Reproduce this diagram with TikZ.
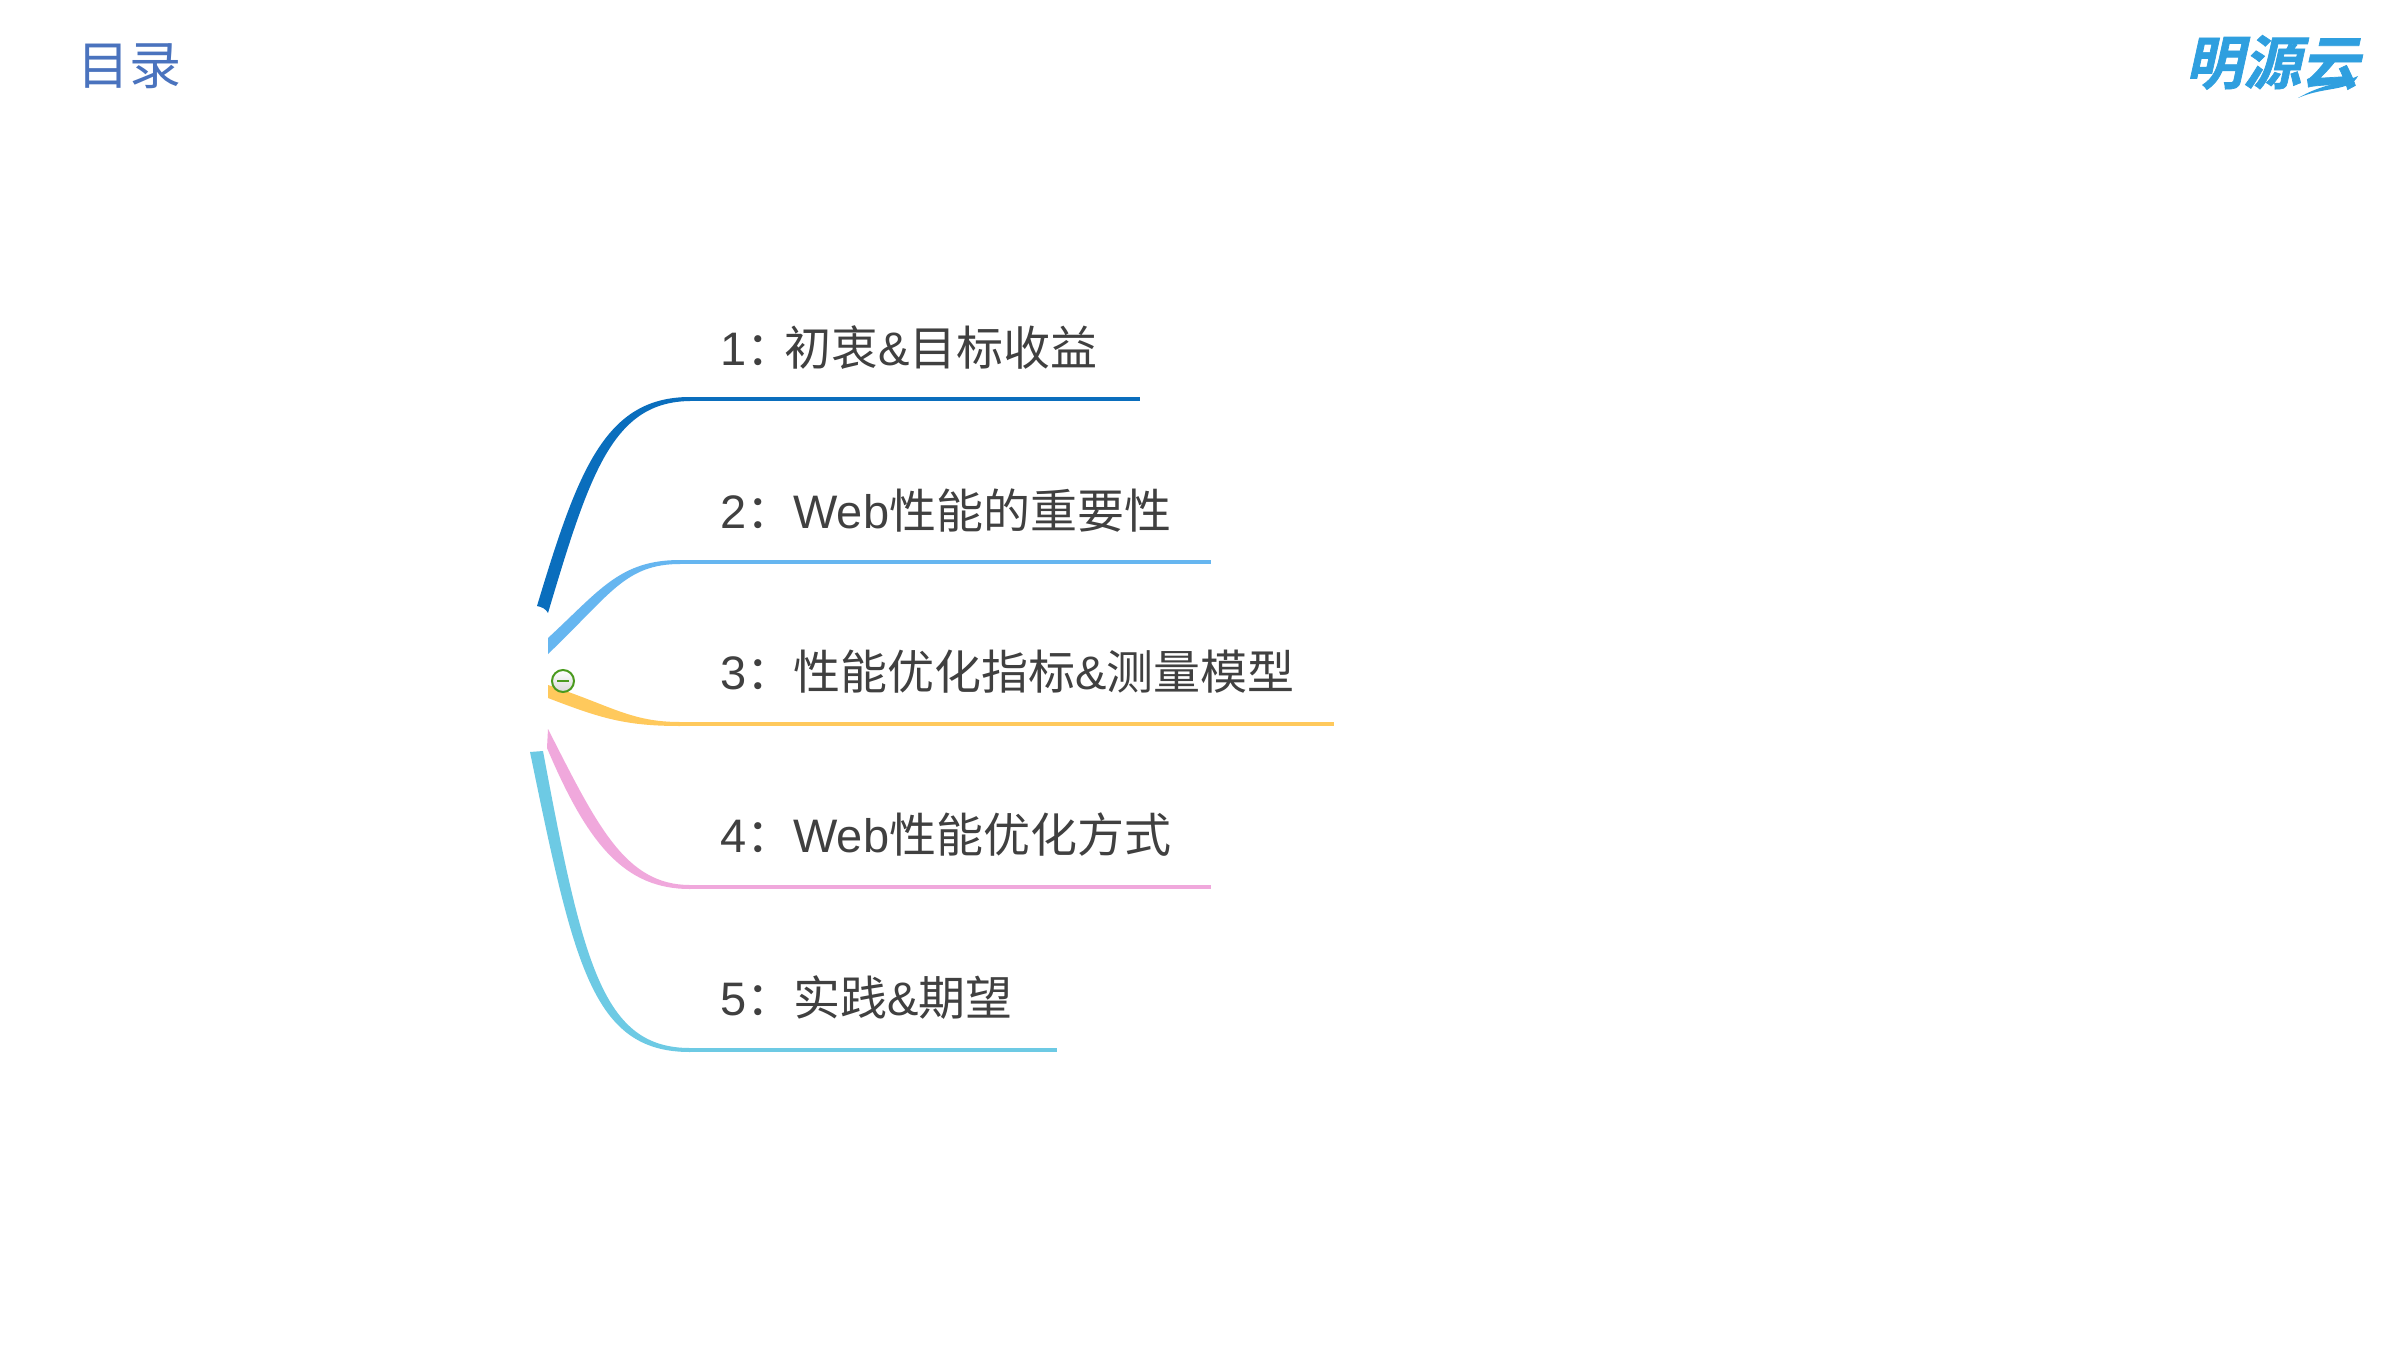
\documentclass[tikz,border=0pt]{standalone}
\usepackage{fontspec}
\setmainfont{Liberation Sans}
\newfontfamily\cjkfont{Noto Sans CJK SC}
\newfontfamily\logofont[FakeSlant=0.22,FakeBold=1.2]{Noto Sans CJK SC Bold}
\newcommand{\zh}[1]{{\cjkfont #1}}
\definecolor{bA}{HTML}{0A6EBD}
\definecolor{bB}{HTML}{66B6F0}
\definecolor{bC}{HTML}{FFC95C}
\definecolor{bD}{HTML}{F0A8DC}
\definecolor{bE}{HTML}{6DCAE4}
\definecolor{txt}{HTML}{404040}
\definecolor{ttl}{HTML}{4A73BE}
\definecolor{lg}{HTML}{2F9FDF}
\definecolor{btng}{HTML}{4A9A1E}
\tikzset{
  topic/.style={anchor=base west,inner sep=0pt,text=txt,font=\fontsize{47}{47}\selectfont},
  under/.style={line width=4pt},
  title/.style={anchor=base west,inner sep=0pt,text=ttl,font=\fontsize{52}{52}\selectfont\cjkfont},
  logotext/.style={anchor=base west,inner sep=0pt,text=lg,font=\fontsize{58}{58}\selectfont\logofont},
}
\begin{document}
\begin{tikzpicture}[x=1pt,y=-1pt]
\useasboundingbox (0,0) rectangle (2400,1351);
\fill[white] (0,0) rectangle (2400,1351);
% title and logo
\node[title] (title) at (77,85) {目录};
\node[logotext] (logo) at (2185,84) {明源云};
\fill[lg] (2298,98) .. controls (2322,84) and (2340,84) .. (2358,76) .. controls (2350,92) and (2325,86) .. cycle;
% branch ends
\coordinate (c1) at (688,399); \coordinate (e1) at (1140,399);
\coordinate (c2) at (680,562); \coordinate (e2) at (1211,562);
\coordinate (c3) at (680,724); \coordinate (e3) at (1334,724);
\coordinate (c4) at (688,887); \coordinate (e4) at (1211,887);
\coordinate (c5) at (688,1050); \coordinate (e5) at (1057,1050);
% tapered branches
\fill[bA] (537,606) .. controls (578,470) and (605,397) .. (690,397) -- (690,401)
  .. controls (613,402) and (590,472) .. (548,613) .. controls (546,609) and (542,607) .. cycle;
\fill[bB] (548,638) .. controls (600,590) and (620,560) .. (680,560) -- (680,564)
  .. controls (625,564) and (610,595) .. (548,654) -- cycle;
\fill[bC] (548,685) .. controls (610,705) and (630,722) .. (680,722) -- (680,726)
  .. controls (625,726) and (600,718) .. (548,698) -- cycle;
\fill[bD] (547,748) .. controls (588,845) and (625,889) .. (690,889) -- (690,885)
  .. controls (625,885) and (597,825) .. (548,729) -- cycle;
\fill[bE] (530,752) .. controls (574,965) and (592,1052) .. (690,1052) -- (690,1048)
  .. controls (603,1048) and (583,965) .. (543,751) -- cycle;
\draw[under,bA] (c1) -- (e1);
\draw[under,bB] (c2) -- (e2);
\draw[under,bC] (c3) -- (e3);
\draw[under,bD] (c4) -- (e4);
\draw[under,bE] (c5) -- (e5);
% collapse button
\node[circle,draw=btng,line width=2pt,minimum size=22pt,inner sep=0pt,top color=white,bottom color=black!15] (btn) at (563,681) {};
\draw[btng,line width=2pt] ([xshift=-6pt]btn.center) -- ([xshift=6pt]btn.center);
% topics
\node[topic] (t1) at (720,365) {1\zh{：}\kern-9pt\zh{初衷}\&\zh{目标收益}};
\node[topic] (t2) at (720,528) {2\zh{：}Web\zh{性能的重要性}};
\node[topic] (t3) at (720,689) {3\zh{：性能优化指标}\&\zh{测量模型}};
\node[topic] (t4) at (720,852) {4\zh{：}Web\zh{性能优化方式}};
\node[topic] (t5) at (720,1015) {5\zh{：实践}\&\zh{期望}};
\end{tikzpicture}
\end{document}
